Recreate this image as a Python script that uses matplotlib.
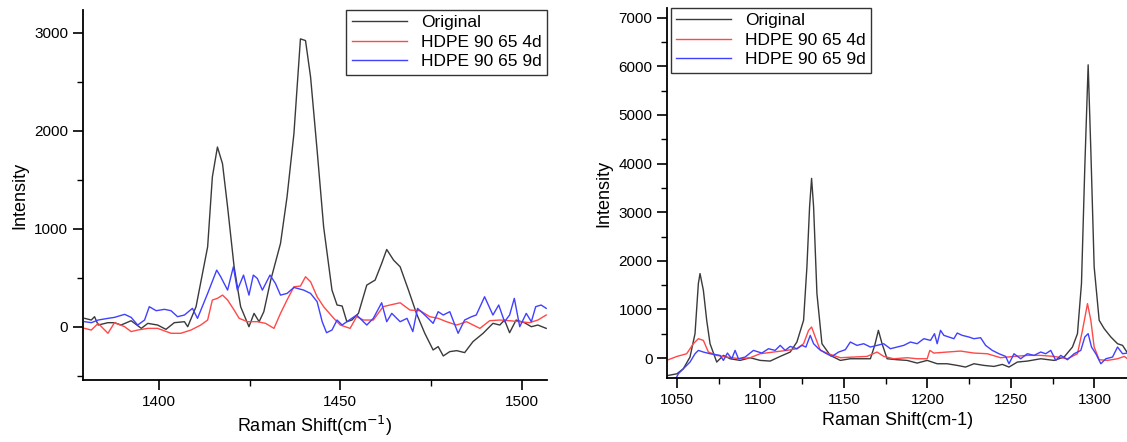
import numpy as np
import matplotlib.pyplot as plt

plt.rcParams['font.family'] = ['Liberation Sans Narrow', 'Liberation Sans', 'DejaVu Sans']

labels = ['Original', 'HDPE 90 65 4d', 'HDPE 90 65 9d']
colors = ['#3a3a3a', '#ff4848', '#4040ff']

# left panel, 1380-1507 cm-1
xl_orig = [1379.5, 1381.3, 1382.2, 1383.2, 1385.9, 1387.7, 1389.5, 1392.3, 1395.1, 1396.9, 1399.6,
           1401.9, 1404.2, 1407.0, 1407.9, 1410.2, 1413.4, 1414.7, 1416.1, 1417.5, 1418.9, 1420.7,
           1422.5, 1424.8, 1426.2, 1427.6, 1428.9, 1430.8, 1433.5, 1435.3, 1437.2, 1439.0, 1440.4,
           1441.8, 1443.6, 1445.4, 1447.7, 1449.1, 1450.5, 1451.8, 1453.2, 1455.0, 1457.3, 1459.6,
           1461.4, 1462.8, 1464.7, 1466.5, 1468.8, 1471.0, 1473.3, 1475.6, 1477.0, 1478.4, 1480.2,
           1482.1, 1484.3, 1486.6, 1489.4, 1492.1, 1494.0, 1495.3, 1496.7, 1498.5, 1500.8, 1502.7,
           1504.5, 1506.8]
yl_orig = [88, 71, 105, 20, 44, 44, 20, 64, -14, 37, 20,
           -24, 44, 54, 3, 207, 817, 1529, 1834, 1664, 1224, 614,
           207, 3, 139, 54, 156, 478, 851, 1325, 1969, 2936, 2919,
           2546, 1800, 1020, 376, 224, 214, 54, 71, 139, 427, 478,
           647, 790, 681, 614, 376, 139, -64, -234, -200, -295, -251,
           -241, -261, -149, -64, 37, 20, 71, -58, 71, 44, 3,
           20, -14]

xl_4d = [1379.5, 1381.3, 1383.2, 1385.9, 1387.7, 1390.5, 1392.3, 1394.1, 1396.9, 1399.6, 1403.3,
         1406.0, 1408.8, 1411.5, 1413.4, 1414.7, 1416.1, 1417.5, 1418.9, 1420.7, 1422.1, 1424.4,
         1427.1, 1429.4, 1431.7, 1433.5, 1435.3, 1437.2, 1439.0, 1440.4, 1441.8, 1443.6, 1445.4,
         1448.2, 1450.0, 1452.7, 1454.5, 1456.4, 1459.1, 1461.8, 1463.7, 1466.5, 1469.2, 1472.0,
         1474.7, 1477.0, 1479.3, 1482.1, 1484.8, 1488.5, 1491.2, 1494.0, 1496.7, 1499.5, 1502.2,
         1504.5, 1506.8]
yl_4d = [-14, -31, 37, -64, 44, 3, -47, -31, -14, -14, -64,
         -64, -31, 20, 71, 275, 292, 325, 275, 173, 88, 54,
         54, 37, -14, 139, 275, 410, 417, 512, 461, 308, 207,
         88, 20, -14, 105, 71, 71, 207, 224, 247, 173, 166,
         105, 88, 54, 20, 54, -14, 64, 71, 64, 54, 44,
         71, 122]

xl_9d = [1379.5, 1381.3, 1383.2, 1385.9, 1387.7, 1390.5, 1392.3, 1394.1, 1396.0, 1397.3, 1399.2,
         1401.5, 1403.3, 1405.1, 1407.0, 1409.2, 1410.6, 1413.4, 1415.9, 1417.0, 1418.9, 1420.5,
         1421.6, 1423.3, 1424.8, 1426.0, 1427.1, 1428.5, 1430.6, 1432.1, 1433.5, 1435.3, 1437.2,
         1439.9, 1441.8, 1443.6, 1445.0, 1446.2, 1447.7, 1449.1, 1450.5, 1451.8, 1454.5, 1457.3,
         1459.1, 1461.4, 1462.8, 1464.2, 1466.5, 1468.4, 1470.0, 1471.3, 1473.8, 1475.6, 1477.0,
         1478.4, 1480.2, 1482.5, 1484.3, 1486.2, 1487.5, 1489.8, 1492.1, 1493.7, 1495.3, 1496.7,
         1498.0, 1499.5, 1501.3, 1502.7, 1503.9, 1505.4, 1506.8]
yl_9d = [54, 44, 71, 88, 98, 129, 98, 20, 71, 207, 166,
         180, 166, 105, 122, 190, 88, 342, 580, 512, 376, 614,
         376, 529, 325, 529, 495, 376, 529, 444, 325, 342, 403,
         376, 342, 258, 54, -58, -31, 71, 20, 54, 122, 20,
         88, 247, 54, 139, 54, 88, -47, 190, 105, 37, 156,
         122, 156, -64, 71, 105, 122, 308, 122, 224, 54, 122,
         292, 3, 139, 54, 207, 224, 190]

# right panel, 1045-1320 cm-1
xr_orig = [1044.8, 1050.0, 1053.8, 1057.8, 1060.8, 1062.8, 1063.8, 1065.8, 1067.8, 1069.8, 1073.8,
           1077.8, 1081.8, 1087.8, 1093.8, 1099.8, 1105.8, 1111.8, 1117.8, 1121.8, 1125.8, 1127.8,
           1129.4, 1130.6, 1131.8, 1133.8, 1136.8, 1141.8, 1147.8, 1153.8, 1159.8, 1165.8, 1168.4,
           1170.6, 1172.8, 1175.8, 1181.8, 1187.8, 1193.8, 1199.8, 1205.8, 1211.8, 1217.8, 1222.8,
           1227.8, 1233.8, 1239.8, 1244.8, 1248.8, 1253.8, 1259.8, 1267.8, 1275.8, 1281.8, 1286.8,
           1289.8, 1292.2, 1294.2, 1296.2, 1297.8, 1299.8, 1302.8, 1305.8, 1309.8, 1313.8, 1316.8,
           1319.8]
yr_orig = [-357, -323, -220, 21, 502, 1532, 1738, 1395, 776, 295, -82,
           55, -14, -48, 7, -48, -62, 34, 124, 330, 776, 1875,
           3112, 3696, 3112, 1326, 295, 55, -48, -14, -14, -14, 261,
           570, 295, -14, -34, -48, -103, -48, -117, -117, -151, -185,
           -117, -151, -172, -130, -185, -82, -62, -14, -48, 21, 227,
           502, 1532, 3937, 6032, 4280, 1875, 776, 605, 433, 295, 261,
           103]

xr_4d = [1044.8, 1050.0, 1055.8, 1059.8, 1062.8, 1065.8, 1068.8, 1073.8, 1079.8, 1087.8, 1093.8,
         1099.8, 1107.8, 1115.8, 1121.8, 1125.8, 1128.8, 1130.6, 1132.8, 1135.8, 1141.8, 1147.8,
         1155.8, 1163.8, 1169.8, 1173.8, 1179.8, 1187.8, 1193.8, 1199.8, 1201.4, 1203.8, 1211.8,
         1219.8, 1227.8, 1235.8, 1243.8, 1251.8, 1259.8, 1267.8, 1275.8, 1283.8, 1289.8, 1292.8,
         1295.8, 1297.8, 1299.8, 1302.8, 1307.8, 1313.8, 1317.8, 1319.8]
yr_4d = [-34, 34, 89, 295, 398, 364, 124, 55, 21, -14, 7,
         89, 124, 158, 192, 295, 570, 639, 433, 158, 76, 7,
         21, 34, 124, 34, -14, 7, -14, -14, 158, 103, 124,
         144, 103, 89, 7, 34, 55, 55, 34, -14, 89, 570,
         1120, 776, 227, -34, -48, -14, 34, -14]

xr_9d = [1048.8, 1050.8, 1053.8, 1057.8, 1060.8, 1062.8, 1065.8, 1069.8, 1075.8, 1077.8, 1080.2,
         1082.8, 1084.8, 1086.8, 1090.8, 1095.8, 1100.8, 1104.8, 1108.8, 1111.8, 1114.8, 1117.8,
         1121.8, 1124.8, 1127.2, 1129.8, 1131.8, 1134.8, 1138.8, 1142.8, 1146.8, 1150.8, 1153.8,
         1157.8, 1161.8, 1165.8, 1169.8, 1173.8, 1177.8, 1181.8, 1185.8, 1189.8, 1193.8, 1197.8,
         1201.8, 1204.2, 1205.8, 1207.8, 1209.8, 1212.8, 1215.8, 1217.8, 1220.8, 1224.8, 1227.8,
         1231.8, 1234.8, 1238.8, 1242.8, 1246.8, 1248.8, 1251.8, 1255.8, 1259.8, 1263.8, 1267.8,
         1270.8, 1273.8, 1276.8, 1279.8, 1283.8, 1287.8, 1291.8, 1294.2, 1296.2, 1298.2, 1300.8,
         1303.8, 1306.8, 1310.8, 1313.8, 1316.8, 1319.8]
yr_9d = [-460, -323, -220, -82, 89, 158, 124, 89, 55, -48, 103,
         -14, 158, -14, 21, 158, 103, 192, 158, 261, 158, 240,
         192, 261, 227, 467, 295, 192, 103, 34, 124, 172, 330,
         261, 295, 227, 261, 295, 192, 227, 261, 330, 295, 398,
         364, 502, 295, 570, 467, 433, 398, 515, 467, 433, 398,
         419, 261, 158, 89, 34, -117, 89, -14, 89, 55, 124,
         89, 158, -48, 55, -34, 89, 158, 433, 502, 227, 89,
         -117, -14, 21, 227, 89, 103]

fig = plt.figure(figsize=(11.27, 4.42), dpi=100)
ax1 = fig.add_axes([0.0736, 0.1403, 0.4117, 0.837])
ax2 = fig.add_axes([0.5918, 0.1448, 0.4090, 0.837])

for ax, series in [(ax1, [(xl_orig, yl_orig), (xl_4d, yl_4d), (xl_9d, yl_9d)]),
                   (ax2, [(xr_orig, yr_orig), (xr_4d, yr_4d), (xr_9d, yr_9d)])]:
    for (x, y), lab, c in zip(series, labels, colors):
        ax.plot(x, y, color=c, lw=1.0, label=lab)
    for s in ['top', 'right']:
        ax.spines[s].set_visible(False)
    for s in ['left', 'bottom']:
        ax.spines[s].set_linewidth(1.3)
    ax.tick_params(which='major', direction='out', length=7, width=1.2, labelsize=11)
    ax.tick_params(which='minor', direction='out', length=4, width=1.0)
    ax.set_ylabel('Intensity', fontsize=13)

ax1.set_xlim(1379, 1507)
ax1.set_ylim(-540, 3230)
ax1.set_xticks([1400, 1450, 1500])
ax1.set_xticks([1425, 1475], minor=True)
ax1.set_yticks([0, 1000, 2000, 3000])
ax1.set_yticks([-500, 500, 1500, 2500], minor=True)
ax1.set_xlabel('Raman Shift(cm$^{-1}$)', fontsize=13)
ax1.legend(loc='upper right', bbox_to_anchor=(1.0, 1.0), borderaxespad=0.0, fancybox=False,
           edgecolor='#333333', framealpha=1, handlelength=3.2, fontsize=12.5,
           prop={'family': ['Liberation Sans', 'DejaVu Sans'], 'size': 12.5},
           borderpad=0.3, labelspacing=0.25)

ax2.set_xlim(1044, 1320)
ax2.set_ylim(-410, 7200)
ax2.set_xticks([1050, 1100, 1150, 1200, 1250, 1300])
ax2.set_xticks([1075, 1125, 1175, 1225, 1275], minor=True)
ax2.set_yticks(range(0, 7001, 1000))
ax2.set_yticks(range(500, 7000, 1000), minor=True)
ax2.set_xlabel('Raman Shift(cm-1)', fontsize=13)
ax2.legend(loc='upper left', bbox_to_anchor=(0.008, 1.0), borderaxespad=0.0, fancybox=False,
           edgecolor='#333333', framealpha=1, handlelength=3.2,
           prop={'family': ['Liberation Sans', 'DejaVu Sans'], 'size': 12.5},
           borderpad=0.3, labelspacing=0.25)

fig.savefig('out.png', dpi=100)
